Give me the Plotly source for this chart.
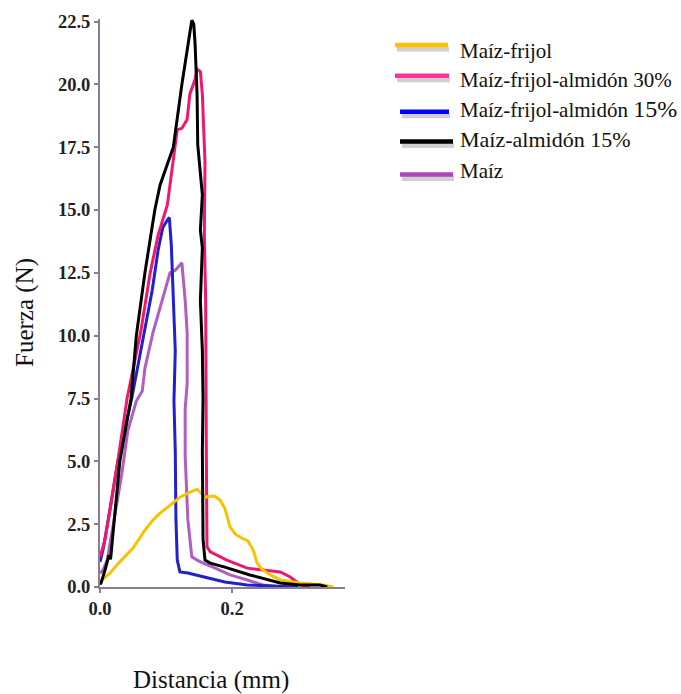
import plotly.graph_objects as go

# ---- data ----
series_names = ["Maíz-frijol", "Maíz-frijol-almidón 30%", "Maíz-frijol-almidón 15%",
                "Maíz-almidón 15%", "Maíz"]

x_yellow = [0.0, 0.003, 0.015, 0.03, 0.05, 0.068, 0.08, 0.091, 0.106, 0.121, 0.136, 0.147,
            0.152, 0.159, 0.167, 0.174, 0.182, 0.189, 0.197, 0.205, 0.215, 0.224, 0.232,
            0.238, 0.245, 0.258, 0.273, 0.303, 0.338, 0.353]
y_yellow = [0.16, 0.28, 0.55, 1.0, 1.55, 2.26, 2.66, 2.94, 3.25, 3.57, 3.77, 3.89,
            3.77, 3.57, 3.61, 3.61, 3.45, 3.13, 2.38, 2.1, 1.94, 1.83, 1.47,
            0.95, 0.71, 0.48, 0.28, 0.16, 0.08, 0.0]

x_pink = [0.0, 0.0076, 0.015, 0.027, 0.041, 0.062, 0.076, 0.088, 0.102, 0.111, 0.117, 0.124,
          0.132, 0.136, 0.144, 0.147, 0.152, 0.155, 0.156, 0.159, 0.158, 0.160, 0.161, 0.162,
          0.167, 0.171, 0.182, 0.192, 0.223, 0.253, 0.273, 0.288, 0.298, 0.308, 0.318]
y_pink = [1.19, 1.87, 3.06, 5.0, 7.5, 10.2, 12.5, 14.0, 15.2, 16.9, 18.2, 18.25,
          18.6, 19.6, 20.2, 20.6, 20.5, 19.6, 18.9, 16.9, 14.0, 11.4, 5.4, 1.6,
          1.4, 1.35, 1.19, 1.07, 0.75, 0.67, 0.6, 0.4, 0.2, 0.04, 0.0]

x_blue = [0.0, 0.0045, 0.015, 0.027, 0.041, 0.048, 0.061, 0.068, 0.079, 0.088, 0.095, 0.102,
          0.105, 0.108, 0.111, 0.114, 0.112, 0.114, 0.115, 0.117, 0.121, 0.133, 0.164, 0.189,
          0.223, 0.273, 0.3]
y_blue = [1.0, 1.47, 3.06, 5.0, 6.7, 7.5, 9.3, 10.3, 11.8, 13.4, 14.3, 14.6,
          14.7, 13.6, 11.4, 9.4, 7.4, 5.4, 2.7, 1.07, 0.6, 0.56, 0.36, 0.2,
          0.08, 0.04, 0.0]

x_black = [0.0, 0.0015, 0.0076, 0.0136, 0.016, 0.03, 0.047, 0.055, 0.068, 0.083, 0.091, 0.111,
           0.124, 0.136, 0.139, 0.142, 0.144, 0.147, 0.148, 0.155, 0.152, 0.155, 0.152, 0.155,
           0.156, 0.155, 0.156, 0.159, 0.167, 0.189, 0.227, 0.273, 0.303, 0.333, 0.344]
y_black = [0.1, 0.16, 0.67, 1.27, 1.1, 5.0, 7.5, 10.0, 12.5, 15.0, 16.0, 17.5,
           20.0, 22.2, 22.55, 22.4, 21.6, 19.6, 17.6, 15.6, 14.2, 13.5, 11.4, 9.4,
           7.5, 5.4, 1.9, 1.07, 0.95, 0.79, 0.48, 0.16, 0.08, 0.08, 0.0]

x_purple = [0.0, 0.0045, 0.011, 0.02, 0.033, 0.042, 0.055, 0.064, 0.068, 0.08, 0.094, 0.102,
            0.106, 0.114, 0.121, 0.124, 0.126, 0.129, 0.132, 0.132, 0.129, 0.129, 0.133, 0.136,
            0.139, 0.147, 0.156, 0.171, 0.197, 0.223, 0.247, 0.273]
y_purple = [0.55, 0.67, 1.07, 2.54, 4.5, 6.2, 7.4, 7.8, 8.7, 10.1, 11.4, 12.1,
            12.5, 12.6, 12.8, 12.9, 12.3, 11.4, 10.1, 8.1, 7.1, 5.2, 2.7, 1.9,
            1.2, 1.07, 0.95, 0.79, 0.48, 0.28, 0.08, 0.0]

y_ticks = [0.0, 2.5, 5.0, 7.5, 10.0, 12.5, 15.0, 17.5, 20.0, 22.5]
x_ticks = [0.0, 0.2]

curve_colors = {"Maíz-frijol": "#F5C300", "Maíz-frijol-almidón 30%": "#F0186E",
                "Maíz-frijol-almidón 15%": "#2020CC", "Maíz-almidón 15%": "#000000",
                "Maíz": "#B05EC2"}
legend_colors = ["#FFC000", "#FF3399", "#0000FF", "#000000", "#B044C0"]

data = {
    "Maíz-frijol": (x_yellow, y_yellow),
    "Maíz-frijol-almidón 30%": (x_pink, y_pink),
    "Maíz-frijol-almidón 15%": (x_blue, y_blue),
    "Maíz-almidón 15%": (x_black, y_black),
    "Maíz": (x_purple, y_purple),
}
draw_order = ["Maíz", "Maíz-frijol-almidón 15%", "Maíz-frijol-almidón 30%",
              "Maíz-frijol", "Maíz-almidón 15%"]

fig = go.Figure()
for name in draw_order:
    xs, ys = data[name]
    fig.add_trace(go.Scatter(x=xs, y=ys, mode="lines", name=name, showlegend=False,
                             line=dict(color=curve_colors[name], width=3)))

# ---- layout geometry (pixels) ----
W, H = 681, 694
L, R, T, B = 100, 336, 17, 107
PW, PH = W - L - R, H - T - B


def px(xp):
    return (xp - L) / PW


def py(yp):
    return (H - B - yp) / PH


axis_col = "#8C7C92"
tick_font = dict(family="Liberation Serif", size=18.5, color="#222")

fig.update_layout(
    width=W, height=H, margin=dict(l=L, r=R, t=T, b=B),
    paper_bgcolor="white", plot_bgcolor="white",
    xaxis=dict(range=[0, 0.371], tickvals=x_ticks, ticktext=["<b>%.1f</b>" % v for v in x_ticks],
               showgrid=False, zeroline=False, showline=True, linecolor=axis_col, linewidth=2,
               ticks="outside", ticklen=4, tickcolor=axis_col, tickwidth=1.5, tickfont=tick_font),
    yaxis=dict(range=[0, 22.6], tickvals=y_ticks, ticktext=["<b>%.1f</b>" % v for v in y_ticks],
               showgrid=False, zeroline=False, showline=True, linecolor=axis_col, linewidth=2,
               ticks="outside", ticklen=4, tickcolor=axis_col, tickwidth=1.5, tickfont=tick_font),
)

annotations = [
    dict(text="Fuerza (N)", x=px(25), y=py(312), xref="paper", yref="paper", textangle=-90,
         showarrow=False, xanchor="center", yanchor="middle",
         font=dict(family="Liberation Serif", size=25, color="#111")),
    dict(text="Distancia (mm)", x=px(211), y=py(680), xref="paper", yref="paper",
         showarrow=False, xanchor="center", yanchor="middle",
         font=dict(family="Liberation Serif", size=25, color="#111")),
]

# ---- manual legend ----
legend_line_y = [43, 74, 110, 140, 173]
legend_line_x0 = [395, 395, 400, 400, 400]
legend_line_x1 = [448, 449, 449, 453, 453]
legend_text_y = [49, 78, 107, 138, 170]
legend_labels = ["Maíz-frijol", "Maíz-frijol-almidón 30%",
                 "Maíz-frijol-almidón <span style='font-size:24px'>15%</span>",
                 "Maíz-almidón 15%", "Maíz"]
legend_sizes = [21, 21, 21, 22, 21]

shapes = []
for i in range(len(series_names)):
    # soft shadow
    shapes.append(dict(type="line", xref="paper", yref="paper",
                       x0=px(legend_line_x0[i] + 2), x1=px(legend_line_x1[i] + 1),
                       y0=py(legend_line_y[i] + 4), y1=py(legend_line_y[i] + 4),
                       line=dict(color="rgba(120,120,120,0.35)", width=5)))
    shapes.append(dict(type="line", xref="paper", yref="paper",
                       x0=px(legend_line_x0[i]), x1=px(legend_line_x1[i]),
                       y0=py(legend_line_y[i]), y1=py(legend_line_y[i]),
                       line=dict(color=legend_colors[i], width=4.5)))
    annotations.append(dict(text=legend_labels[i], x=px(458), y=py(legend_text_y[i]),
                            xref="paper", yref="paper", showarrow=False,
                            xanchor="left", yanchor="middle",
                            font=dict(family="Liberation Serif", size=legend_sizes[i], color="#111")))

fig.update_layout(annotations=annotations, shapes=shapes)
fig.write_html("out.html")
